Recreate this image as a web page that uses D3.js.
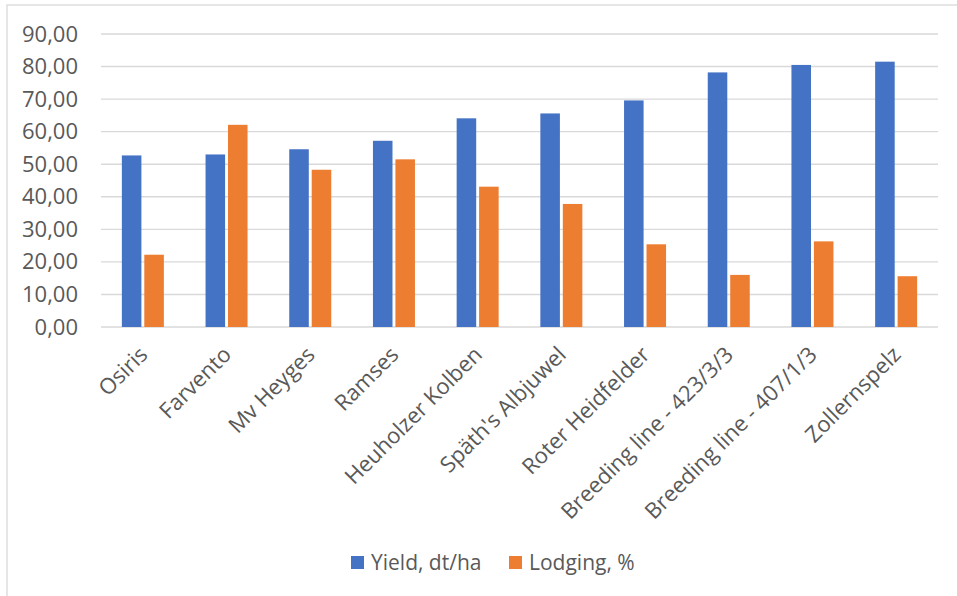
<!DOCTYPE html>
<html>
<head>
<meta charset="utf-8">
<script src="https://cdn.jsdelivr.net/npm/d3@7"></script>
<style>
    body { margin: 0; background: #fff; }
    svg text { font-family: 'Open Sans', sans-serif; fill: #595959; }
</style>
</head>
<body>
<div id="chart"></div>
<script>
// Chart data
const categories = ['Osiris', 'Farvento', 'Mv Heyges', 'Ramses', 'Heuholzer Kolben',
    "Späth's Albjuwel", 'Roter Heidfelder', 'Breeding line - 423/3/3',
    'Breeding line - 407/1/3', 'Zollernspelz'];
const yieldValues = [52.7, 53.0, 54.6, 57.2, 64.1, 65.6, 69.6, 78.2, 80.5, 81.5];
const lodgingValues = [22.2, 62.1, 48.3, 51.5, 43.1, 37.8, 25.4, 16.0, 26.3, 15.6];
const seriesNames = ['Yield, dt/ha', 'Lodging, %'];
const yTicks = [0, 10, 20, 30, 40, 50, 60, 70, 80, 90];

const colors = ['#4472C4', '#ED7D31'];

let width = 957, height = 596;
let margin = { top: 34, right: 19, bottom: 269, left: 101 };
let plotW = width - margin.left - margin.right;
let plotH = height - margin.top - margin.bottom;

let svg = d3.select('#chart').append('svg')
    .attr('width', width)
    .attr('height', height);

// outer chart border (only top/left visible in frame)
svg.append('rect')
    .attr('x', 7).attr('y', 5)
    .attr('width', 1000).attr('height', 1000)
    .style('fill', 'none')
    .style('stroke', '#d9d9d9')
    .style('stroke-width', 1.3);

let g = svg.append('g')
    .attr('transform', 'translate(' + margin.left + ',' + margin.top + ')');

let y = d3.scaleLinear()
    .domain([0, 90])
    .range([plotH, 0]);

let x = d3.scaleBand()
    .domain(categories)
    .range([0, plotW]);

let x1 = d3.scaleBand()
    .domain(seriesNames)
    .range([0, 42])
    .paddingInner(0.13);

// gridlines
g.append('g')
    .selectAll('line')
    .data(yTicks)
    .enter()
    .append('line')
    .attr('x1', 0).attr('x2', plotW)
    .attr('y1', d => y(d)).attr('y2', d => y(d))
    .style('stroke', '#d9d9d9')
    .style('stroke-width', 1.4);

// y axis labels
let fmt = d => d3.format('.2f')(d).replace('.', ',');
let yAxis = d3.axisLeft(y)
    .tickValues(yTicks)
    .tickFormat(fmt)
    .tickSize(0)
    .tickPadding(23);

let yg = g.append('g').call(yAxis);
yg.select('.domain').remove();
yg.selectAll('text')
    .style('font-size', '22px')
    .style('font-family', "'Open Sans', sans-serif")
    .style('fill', '#595959');

// bars
let series = [yieldValues, lodgingValues];
series.forEach(function(vals, si) {
    g.append('g')
        .selectAll('rect')
        .data(vals)
        .enter()
        .append('rect')
        .attr('x', (d, i) => x(categories[i]) + (x.bandwidth() - 42) / 2 + x1(seriesNames[si]))
        .attr('width', x1.bandwidth())
        .attr('y', d => y(d))
        .attr('height', d => plotH - y(d))
        .style('fill', colors[si]);
});

// x labels, rotated
g.append('g')
    .selectAll('text')
    .data(categories)
    .enter()
    .append('text')
    .attr('transform', d => 'translate(' + (x(d) + x.bandwidth() / 2 + 6) + ',' + (plotH + 29) + ') rotate(-45)')
    .attr('text-anchor', 'end')
    .style('font-size', '22px')
    .text(d => d);

// legend
let legend = svg.append('g')
    .attr('transform', 'translate(351, 556)');

let items = [{ name: seriesNames[0], x: 0 }, { name: seriesNames[1], x: 158 }];
items.forEach(function(it, i) {
    legend.append('rect')
        .attr('x', it.x).attr('y', 0)
        .attr('width', 13).attr('height', 13)
        .style('fill', colors[i]);
    legend.append('text')
        .attr('x', it.x + 20)
        .attr('y', 14)
        .style('font-size', '21px')
        .text(it.name);
});
</script>
</body>
</html>
